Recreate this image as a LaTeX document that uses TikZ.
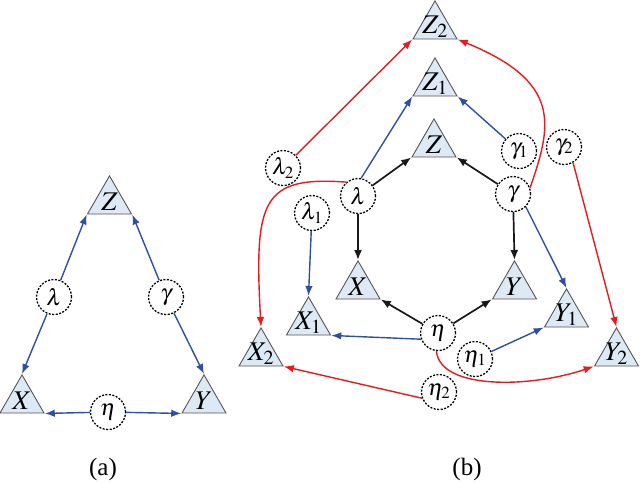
\documentclass[tikz,border=0pt]{standalone}
\usepackage{mathptmx}
\usepackage[no-math]{fontspec}
\setmainfont{Liberation Serif}
\usetikzlibrary{arrows.meta,shapes.geometric}
\definecolor{myblue}{RGB}{45,80,165}
\definecolor{myred}{RGB}{235,25,30}
\definecolor{myblack}{RGB}{25,25,25}
\definecolor{trifill}{RGB}{222,233,246}
\definecolor{triline}{RGB}{85,85,85}
\begin{document}
\begin{tikzpicture}[x=1pt,y=-1pt,
  tri/.style={regular polygon, regular polygon sides=3, minimum size=50.8pt,
    inner sep=0pt, draw=triline, line width=0.9pt, fill=trifill,
    label={[yshift=-0.5pt,font=\fontsize{27}{30}\selectfont]center:$#1$}},
  var/.style={circle, draw=black, dash pattern=on 2pt off 1.5pt, line width=1.3pt,
    fill=white, minimum size=35pt, inner sep=0pt, font=\fontsize{23}{26}\selectfont},
  ka/.style={-{Latex[length=10pt,width=8pt]}, line width=1.7pt, draw=myblack},
  ba/.style={-{Latex[length=10pt,width=7.5pt]}, line width=1.4pt, draw=myblue},
  ra/.style={-{Latex[length=10pt,width=7.5pt]}, line width=1.4pt, draw=myred},
  captext/.style={font=\fontsize{25}{30}\selectfont}]
\useasboundingbox (0,0) rectangle (640,483);

% ---------- panel (a)
\node[tri=Z] (Za) at (109.5,201.3) {};
\node[tri=X] (Xa) at (22,400.3) {};
\node[tri=Y] (Ya) at (204,400.3) {};
\node[var] (la) at (54,297) {$\lambda$};
\node[var] (ga) at (166,297) {$\gamma$};
\node[var] (ea) at (108,412) {$\eta$};
\draw[ba] (la) -- (Za.corner 2);
\draw[ba] (la) -- (Xa.corner 1);
\draw[ba] (ga) -- (Za.corner 3);
\draw[ba] (ga) -- (Ya.corner 1);
\draw[ba] (ea) -- (Xa.corner 3);
\draw[ba] (ea) -- (Ya.corner 2);
\node[captext] (capa) at (103,469) {(a)};

% ---------- panel (b)
\node[tri=Z_2] (Z2) at (435,26.3) {};
\node[tri=Z_1] (Z1) at (435,83.3) {};
\node[tri=Z] (Zb) at (434,144.3) {};
\node[tri=X] (Xb) at (358,286.3) {};
\node[tri=Y] (Yb) at (514.5,286.3) {};
\node[tri=X_1] (X1) at (308.5,322.3) {};
\node[tri=Y_1] (Y1) at (566.5,314.3) {};
\node[tri=X_2] (X2) at (261,353.3) {};
\node[tri=Y_2] (Y2) at (616.5,353.3) {};

\node[var] (l2) at (283,168) {$\lambda_2$};
\node[var] (g1) at (519,151) {$\gamma_1$};
\node[var] (g2) at (564,147) {$\gamma_2$};
\node[var] (lb) at (358,196) {$\lambda$};
\node[var] (gb) at (513,194) {$\gamma$};
\node[var] (l1) at (312,213) {$\lambda_1$};
\node[var] (eb) at (438,333) {$\eta$};
\node[var] (e1) at (475,359) {$\eta_1$};
\node[var] (e2) at (439,392) {$\eta_2$};

% black
\draw[ka] (lb) -- (Zb.corner 2);
\draw[ka] (gb) -- (Zb.corner 3);
\draw[ka] (lb) -- (Xb.corner 1);
\draw[ka] (gb) -- (Yb.corner 1);
\draw[ka] (eb) -- (Xb.corner 3);
\draw[ka] (eb) -- (Yb.corner 2);
% blue
\draw[ba] (lb.80) -- (Z1.corner 2);
\draw[ba] (g1) -- (Z1.corner 3);
\draw[ba] (l1) -- (X1.corner 1);
\draw[ba] (gb.-45) -- (Y1.corner 1);
\draw[ba] (eb.200) -- (X1.corner 3);
\draw[ba] (e1) -- (Y1.corner 2);
% red
\draw[ra] (l2) -- (Z2.corner 2);
\draw[ra] (g2.-60) -- (Y2.corner 1);
\draw[ra] (e2.200) -- (X2.corner 3);
\draw[ra] (gb.20) .. controls (552,125) and (562,82) .. (Z2.corner 3);
\draw[ra] (lb.130) .. controls (262,176) and (254,200) .. (X2.corner 1);
\draw[ra] (eb.265) .. controls (440,390) and (530,388) .. (Y2.corner 2);

\node[captext] (capb) at (467,469) {(b)};
\end{tikzpicture}
\end{document}
